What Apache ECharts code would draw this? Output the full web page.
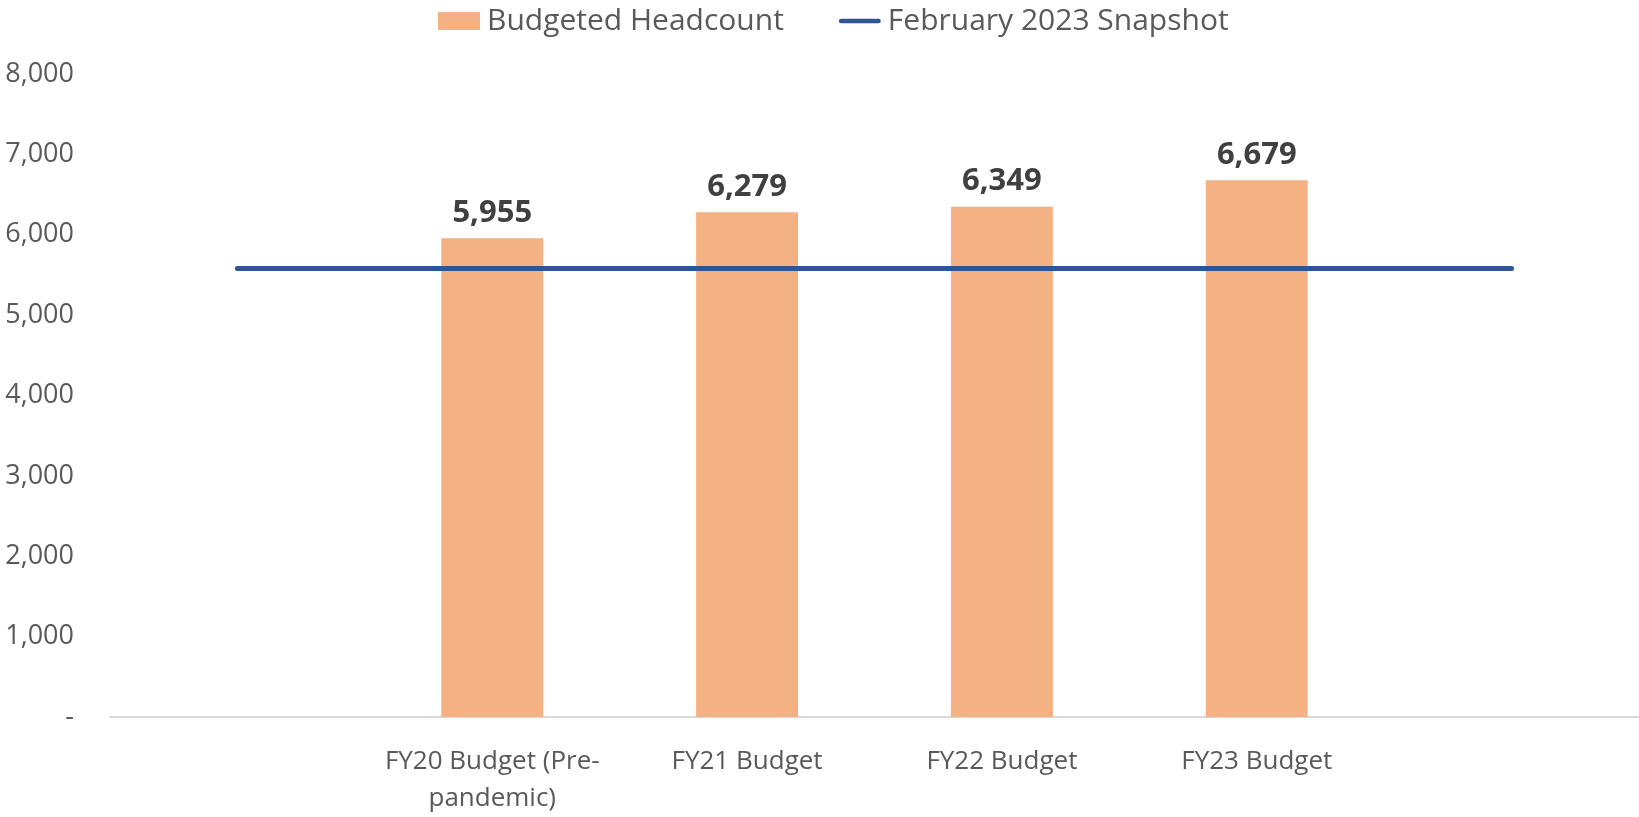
<!DOCTYPE html>
<html>
<head>
<meta charset="utf-8">
<script src="https://cdn.jsdelivr.net/npm/echarts@6/dist/echarts.min.js"></script>
<style>
html,body{margin:0;padding:0;background:#fff;}
#chart{width:1639px;height:817px;}
</style>
</head>
<body>
<div id="chart"></div>
<script>
// categories (empty slots at both ends carry the snapshot line only)
var categories = ['', 'FY20 Budget (Pre-\npandemic)', 'FY21 Budget', 'FY22 Budget', 'FY23 Budget', ''];
var budgeted = ['-', 5955, 6279, 6349, 6679, '-'];
var snapshot = [5580, 5580, 5580, 5580, 5580, 5580];
var yTicks = [0, 1000, 2000, 3000, 4000, 5000, 6000, 7000, 8000];

var font = 'Open Sans';

var option = {
    animation: false,
    textStyle: { fontFamily: font },
    legend: {
        left: 438,
        top: 6,
        padding: 0,
        itemWidth: 42,
        itemHeight: 18,
        itemGap: 55,
        textStyle: { fontSize: 30, color: '#595959', fontFamily: font, padding: [0, 0, 0, 2] },
        data: [
            { name: 'Budgeted Headcount', icon: 'rect' },
            { name: 'February 2023 Snapshot', icon: 'path://M2.5,0 L42.5,0 A2.5,2.5 0 0 1 42.5,5 L2.5,5 A2.5,2.5 0 0 1 2.5,0 Z' }
        ]
    },
    grid: { left: 110, right: -7, top: 74, bottom: 94, containLabel: false },
    xAxis: {
        type: 'category',
        data: categories,
        axisTick: { show: false },
        axisLine: { lineStyle: { color: '#d9d9d9', width: 2 } },
        axisLabel: {
            interval: 0,
            fontSize: 26,
            color: '#595959',
            margin: 26,
            lineHeight: 37,
            fontFamily: font
        }
    },
    yAxis: {
        type: 'value',
        min: yTicks[0],
        max: yTicks[yTicks.length - 1],
        interval: 1000,
        splitLine: { show: false },
        axisLine: { show: false },
        axisTick: { show: false },
        axisLabel: {
            fontSize: 27,
            color: '#595959',
            margin: 36,
            fontFamily: font,
            formatter: function (v) {
                if (v === 0) return '-';
                return v.toLocaleString('en-US');
            }
        }
    },
    series: [
        {
            name: 'Budgeted Headcount',
            type: 'bar',
            data: budgeted,
            barWidth: '40%',
            itemStyle: { color: '#f4b183' },
            label: {
                show: true,
                position: 'top',
                distance: 10,
                fontSize: 31,
                fontWeight: 'bold',
                color: '#404040',
                fontFamily: font,
                formatter: function (p) {
                    return Number(p.value).toLocaleString('en-US');
                }
            }
        },
        {
            name: 'February 2023 Snapshot',
            type: 'line',
            data: snapshot,
            symbol: 'none',
            lineStyle: { color: '#2f5597', width: 5, cap: 'round' },
            itemStyle: { color: '#2f5597' },
            z: 3
        }
    ]
};

var chart = echarts.init(document.getElementById('chart'));
chart.setOption(option);
</script>
</body>
</html>
